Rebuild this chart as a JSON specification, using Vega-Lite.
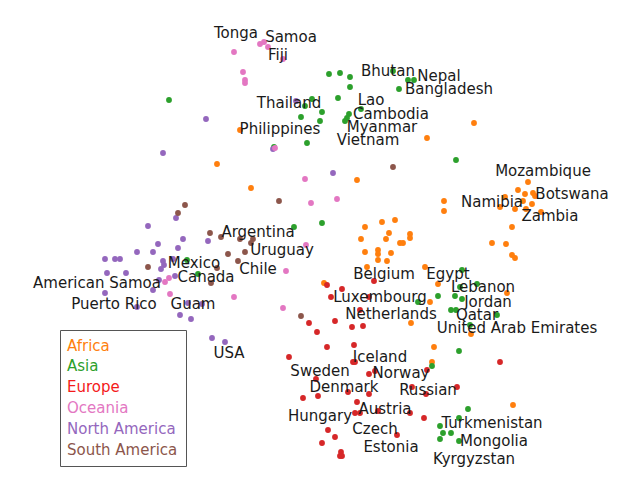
{
  "$schema": "https://vega.github.io/schema/vega-lite/v6.json",
  "width": 640,
  "height": 493,
  "autosize": {"type": "fit", "contains": "padding"},
  "padding": 0,
  "background": "white",
  "config": {"view": {"stroke": null}},
  "datasets": {
    "points": [
      {"x":240,"y":130,"region":"Africa"},{"x":217,"y":164,"region":"Africa"},{"x":474,"y":123,"region":"Africa"},{"x":427,"y":138,"region":"Africa"},{"x":357,"y":180,"region":"Africa"},{"x":251,"y":188,"region":"Africa"},
      {"x":528,"y":182,"region":"Africa"},{"x":518,"y":190,"region":"Africa"},{"x":525,"y":194,"region":"Africa"},{"x":533,"y":193,"region":"Africa"},{"x":535,"y":196,"region":"Africa"},{"x":505,"y":197,"region":"Africa"},{"x":523,"y":201,"region":"Africa"},{"x":532,"y":204,"region":"Africa"},{"x":500,"y":207,"region":"Africa"},{"x":515,"y":209,"region":"Africa"},{"x":526,"y":209,"region":"Africa"},{"x":541,"y":212,"region":"Africa"},{"x":444,"y":201,"region":"Africa"},{"x":444,"y":211,"region":"Africa"},{"x":512,"y":227,"region":"Africa"},{"x":492,"y":243,"region":"Africa"},{"x":506,"y":244,"region":"Africa"},{"x":512,"y":255,"region":"Africa"},{"x":515,"y":258,"region":"Africa"},
      {"x":365,"y":227,"region":"Africa"},{"x":382,"y":222,"region":"Africa"},{"x":395,"y":220,"region":"Africa"},{"x":389,"y":233,"region":"Africa"},{"x":410,"y":234,"region":"Africa"},{"x":410,"y":238,"region":"Africa"},{"x":361,"y":239,"region":"Africa"},{"x":386,"y":239,"region":"Africa"},{"x":400,"y":243,"region":"Africa"},{"x":403,"y":243,"region":"Africa"},{"x":365,"y":252,"region":"Africa"},{"x":378,"y":250,"region":"Africa"},{"x":378,"y":254,"region":"Africa"},{"x":391,"y":253,"region":"Africa"},{"x":378,"y":260,"region":"Africa"},{"x":387,"y":261,"region":"Africa"},{"x":367,"y":267,"region":"Africa"},{"x":425,"y":267,"region":"Africa"},{"x":324,"y":283,"region":"Africa"},{"x":438,"y":284,"region":"Africa"},{"x":507,"y":293,"region":"Africa"},{"x":430,"y":302,"region":"Africa"},{"x":411,"y":323,"region":"Africa"},{"x":471,"y":334,"region":"Africa"},{"x":434,"y":347,"region":"Africa"},{"x":432,"y":362,"region":"Africa"},{"x":513,"y":405,"region":"Africa"},
      {"x":169,"y":100,"region":"Asia"},{"x":329,"y":74,"region":"Asia"},{"x":340,"y":73,"region":"Asia"},{"x":350,"y":77,"region":"Asia"},{"x":350,"y":87,"region":"Asia"},{"x":393,"y":71,"region":"Asia"},{"x":408,"y":80,"region":"Asia"},{"x":414,"y":80,"region":"Asia"},{"x":399,"y":89,"region":"Asia"},{"x":338,"y":98,"region":"Asia"},{"x":312,"y":99,"region":"Asia"},{"x":305,"y":106,"region":"Asia"},{"x":322,"y":112,"region":"Asia"},{"x":301,"y":117,"region":"Asia"},{"x":320,"y":121,"region":"Asia"},{"x":361,"y":109,"region":"Asia"},{"x":349,"y":114,"region":"Asia"},{"x":347,"y":118,"region":"Asia"},{"x":345,"y":121,"region":"Asia"},{"x":307,"y":143,"region":"Asia"},{"x":274,"y":147,"region":"Asia"},{"x":456,"y":160,"region":"Asia"},{"x":294,"y":227,"region":"Asia"},{"x":322,"y":223,"region":"Asia"},{"x":187,"y":260,"region":"Asia"},{"x":198,"y":274,"region":"Asia"},{"x":462,"y":270,"region":"Asia"},{"x":460,"y":287,"region":"Asia"},{"x":477,"y":284,"region":"Asia"},{"x":438,"y":296,"region":"Asia"},{"x":455,"y":296,"region":"Asia"},{"x":462,"y":299,"region":"Asia"},{"x":418,"y":302,"region":"Asia"},{"x":451,"y":310,"region":"Asia"},{"x":456,"y":310,"region":"Asia"},{"x":497,"y":315,"region":"Asia"},{"x":470,"y":325,"region":"Asia"},{"x":459,"y":351,"region":"Asia"},{"x":432,"y":366,"region":"Asia"},{"x":468,"y":409,"region":"Asia"},{"x":459,"y":418,"region":"Asia"},{"x":440,"y":426,"region":"Asia"},{"x":443,"y":433,"region":"Asia"},{"x":451,"y":433,"region":"Asia"},{"x":440,"y":439,"region":"Asia"},{"x":459,"y":441,"region":"Asia"},
      {"x":309,"y":323,"region":"Europe"},{"x":317,"y":332,"region":"Europe"},{"x":289,"y":357,"region":"Europe"},{"x":374,"y":281,"region":"Europe"},{"x":327,"y":285,"region":"Europe"},{"x":342,"y":289,"region":"Europe"},{"x":331,"y":297,"region":"Europe"},{"x":369,"y":297,"region":"Europe"},{"x":360,"y":310,"region":"Europe"},{"x":335,"y":321,"region":"Europe"},{"x":352,"y":327,"region":"Europe"},{"x":363,"y":326,"region":"Europe"},{"x":327,"y":347,"region":"Europe"},{"x":354,"y":345,"region":"Europe"},{"x":353,"y":362,"region":"Europe"},{"x":355,"y":362,"region":"Europe"},{"x":500,"y":362,"region":"Europe"},{"x":427,"y":370,"region":"Europe"},{"x":375,"y":371,"region":"Europe"},{"x":369,"y":374,"region":"Europe"},{"x":316,"y":379,"region":"Europe"},{"x":412,"y":387,"region":"Europe"},{"x":426,"y":394,"region":"Europe"},{"x":457,"y":387,"region":"Europe"},{"x":348,"y":392,"region":"Europe"},{"x":318,"y":396,"region":"Europe"},{"x":303,"y":398,"region":"Europe"},{"x":369,"y":394,"region":"Europe"},{"x":357,"y":402,"region":"Europe"},{"x":360,"y":413,"region":"Europe"},{"x":378,"y":411,"region":"Europe"},{"x":355,"y":413,"region":"Europe"},{"x":410,"y":413,"region":"Europe"},{"x":424,"y":418,"region":"Europe"},{"x":328,"y":430,"region":"Europe"},{"x":335,"y":437,"region":"Europe"},{"x":322,"y":443,"region":"Europe"},{"x":397,"y":435,"region":"Europe"},{"x":341,"y":452,"region":"Europe"},{"x":340,"y":456,"region":"Europe"},{"x":342,"y":456,"region":"Europe"},
      {"x":260,"y":44,"region":"Oceania"},{"x":264,"y":42,"region":"Oceania"},{"x":268,"y":47,"region":"Oceania"},{"x":283,"y":59,"region":"Oceania"},{"x":234,"y":52,"region":"Oceania"},{"x":243,"y":72,"region":"Oceania"},{"x":245,"y":80,"region":"Oceania"},{"x":245,"y":83,"region":"Oceania"},{"x":305,"y":179,"region":"Oceania"},{"x":311,"y":203,"region":"Oceania"},{"x":337,"y":199,"region":"Oceania"},{"x":306,"y":245,"region":"Oceania"},{"x":286,"y":271,"region":"Oceania"},{"x":169,"y":278,"region":"Oceania"},{"x":165,"y":282,"region":"Oceania"},{"x":170,"y":294,"region":"Oceania"},{"x":234,"y":297,"region":"Oceania"},{"x":283,"y":308,"region":"Oceania"},
      {"x":163,"y":153,"region":"North America"},{"x":206,"y":119,"region":"North America"},{"x":273,"y":149,"region":"North America"},{"x":296,"y":101,"region":"North America"},{"x":333,"y":173,"region":"North America"},{"x":176,"y":218,"region":"North America"},{"x":148,"y":226,"region":"North America"},{"x":183,"y":239,"region":"North America"},{"x":208,"y":241,"region":"North America"},{"x":158,"y":244,"region":"North America"},{"x":137,"y":252,"region":"North America"},{"x":153,"y":252,"region":"North America"},{"x":178,"y":248,"region":"North America"},{"x":105,"y":259,"region":"North America"},{"x":115,"y":259,"region":"North America"},{"x":120,"y":259,"region":"North America"},{"x":163,"y":261,"region":"North America"},{"x":164,"y":265,"region":"North America"},{"x":161,"y":269,"region":"North America"},{"x":173,"y":259,"region":"North America"},{"x":107,"y":273,"region":"North America"},{"x":126,"y":273,"region":"North America"},{"x":175,"y":276,"region":"North America"},{"x":159,"y":280,"region":"North America"},{"x":105,"y":293,"region":"North America"},{"x":153,"y":290,"region":"North America"},{"x":137,"y":307,"region":"North America"},{"x":188,"y":303,"region":"North America"},{"x":202,"y":304,"region":"North America"},{"x":180,"y":315,"region":"North America"},{"x":191,"y":319,"region":"North America"},{"x":212,"y":338,"region":"North America"},{"x":225,"y":342,"region":"North America"},
      {"x":275,"y":148,"region":"Oceania"},
      {"x":393,"y":167,"region":"South America"},{"x":279,"y":201,"region":"South America"},{"x":185,"y":205,"region":"South America"},{"x":178,"y":213,"region":"South America"},{"x":210,"y":233,"region":"South America"},{"x":221,"y":237,"region":"South America"},{"x":240,"y":239,"region":"South America"},{"x":253,"y":239,"region":"South America"},{"x":251,"y":243,"region":"South America"},{"x":228,"y":254,"region":"South America"},{"x":245,"y":252,"region":"South America"},{"x":238,"y":261,"region":"South America"},{"x":148,"y":267,"region":"South America"},{"x":217,"y":268,"region":"South America"},{"x":211,"y":283,"region":"South America"},{"x":301,"y":316,"region":"South America"}
    ],
    "labels": [
      {"x":236,"y":33,"name":"Tonga"},{"x":291,"y":37,"name":"Samoa"},{"x":278,"y":55,"name":"Fiji"},{"x":289,"y":103,"name":"Thailand"},{"x":280,"y":129,"name":"Philippines"},
      {"x":388,"y":71,"name":"Bhutan"},{"x":439,"y":76,"name":"Nepal"},{"x":449,"y":89,"name":"Bangladesh"},{"x":371,"y":100,"name":"Lao"},{"x":391,"y":114,"name":"Cambodia"},{"x":382,"y":127,"name":"Myanmar"},{"x":368,"y":140,"name":"Vietnam"},
      {"x":543,"y":171,"name":"Mozambique"},{"x":572,"y":194,"name":"Botswana"},{"x":492,"y":202,"name":"Namibia"},{"x":550,"y":216,"name":"Zambia"},
      {"x":258,"y":232,"name":"Argentina"},{"x":282,"y":250,"name":"Uruguay"},{"x":194,"y":263,"name":"Mexico"},{"x":258,"y":269,"name":"Chile"},{"x":206,"y":277,"name":"Canada"},{"x":97,"y":283,"name":"American Samoa"},{"x":114,"y":304,"name":"Puerto Rico"},{"x":193,"y":304,"name":"Guam"},{"x":229,"y":353,"name":"USA"},
      {"x":384,"y":274,"name":"Belgium"},{"x":448,"y":274,"name":"Egypt"},{"x":483,"y":287,"name":"Lebanon"},{"x":380,"y":297,"name":"Luxembourg"},{"x":488,"y":302,"name":"Jordan"},{"x":391,"y":314,"name":"Netherlands"},{"x":477,"y":315,"name":"Qatar"},{"x":517,"y":328,"name":"United Arab Emirates"},
      {"x":380,"y":357,"name":"Iceland"},{"x":320,"y":371,"name":"Sweden"},{"x":401,"y":373,"name":"Norway"},{"x":344,"y":387,"name":"Denmark"},{"x":428,"y":390,"name":"Russian"},{"x":320,"y":416,"name":"Hungary"},{"x":385,"y":409,"name":"Austria"},{"x":375,"y":429,"name":"Czech"},{"x":391,"y":447,"name":"Estonia"},
      {"x":492,"y":423,"name":"Turkmenistan"},{"x":494,"y":441,"name":"Mongolia"},{"x":474,"y":459,"name":"Kyrgyzstan"}
    ]
  },
  "layer": [
    {
      "data": {"name": "points"},
      "mark": {"type": "circle", "size": 34, "opacity": 1},
      "encoding": {
        "x": {"field": "x", "type": "quantitative", "scale": {"domain": [0, 640], "nice": false, "zero": false}, "axis": null},
        "y": {"field": "y", "type": "quantitative", "scale": {"domain": [0, 493], "nice": false, "zero": false, "reverse": true}, "axis": null},
        "color": {
          "field": "region", "type": "nominal",
          "scale": {
            "domain": ["Africa", "Asia", "Europe", "Oceania", "North America", "South America"],
            "range": ["#ff7f0e", "#2ca02c", "#d62728", "#e377c2", "#9467bd", "#8c564b"]
          },
          "legend": {
            "title": null,
            "orient": "none",
            "legendX": 60,
            "legendY": 330,
            "symbolSize": 0,
            "symbolOpacity": 0,
            "symbolStrokeWidth": 0,
            "labelFont": "DejaVu Sans",
            "labelFontSize": 15,
            "labelOffset": -16,
            "labelLimit": 0,
            "rowPadding": 4.8,
            "padding": 8,
            "strokeColor": "#555555",
            "fillColor": "white",
            "cornerRadius": 0,
            "encode": {
              "labels": {
                "update": {
                  "fill": {"signal": "datum.value === 'Europe' ? '#f41a1a' : scale('color', datum.value)"}
                }
              }
            }
          }
        }
      }
    },
    {
      "data": {"name": "labels"},
      "mark": {"type": "text", "font": "DejaVu Sans", "fontSize": 15, "color": "#1a1a1a", "align": "center", "baseline": "middle"},
      "encoding": {
        "x": {"field": "x", "type": "quantitative"},
        "y": {"field": "y", "type": "quantitative"},
        "text": {"field": "name"}
      }
    }
  ]
}
